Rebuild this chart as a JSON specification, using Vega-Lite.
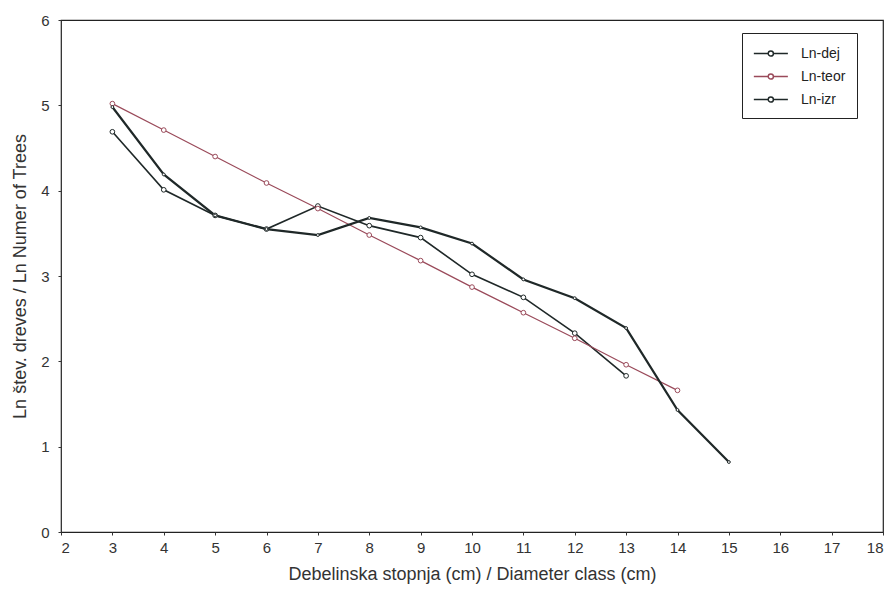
{
  "$schema": "https://vega.github.io/schema/vega-lite/v6.json",
  "width": 822,
  "height": 512,
  "autosize": {"type": "none"},
  "padding": {"left": 61, "top": 20, "right": 12, "bottom": 60},
  "background": "white",
  "config": {
    "font": "Liberation Sans",
    "view": {"stroke": "#222222", "strokeWidth": 1.2},
    "axis": {
      "grid": false,
      "domain": false,
      "tickColor": "#333333",
      "tickSize": 3,
      "labelColor": "#333333",
      "labelFontSize": 15,
      "titleColor": "#333333",
      "titleFontSize": 18,
      "titleFontWeight": "normal"
    }
  },
  "data": {
    "values": [
      {"d": 3, "series": "Ln-dej", "v": 4.69},
      {"d": 4, "series": "Ln-dej", "v": 4.01},
      {"d": 5, "series": "Ln-dej", "v": 3.71},
      {"d": 6, "series": "Ln-dej", "v": 3.55},
      {"d": 7, "series": "Ln-dej", "v": 3.82},
      {"d": 8, "series": "Ln-dej", "v": 3.59},
      {"d": 9, "series": "Ln-dej", "v": 3.45},
      {"d": 10, "series": "Ln-dej", "v": 3.02},
      {"d": 11, "series": "Ln-dej", "v": 2.75},
      {"d": 12, "series": "Ln-dej", "v": 2.33},
      {"d": 13, "series": "Ln-dej", "v": 1.83},
      {"d": 3, "series": "Ln-teor", "v": 5.02},
      {"d": 4, "series": "Ln-teor", "v": 4.71},
      {"d": 5, "series": "Ln-teor", "v": 4.40},
      {"d": 6, "series": "Ln-teor", "v": 4.09},
      {"d": 7, "series": "Ln-teor", "v": 3.79},
      {"d": 8, "series": "Ln-teor", "v": 3.48},
      {"d": 9, "series": "Ln-teor", "v": 3.18},
      {"d": 10, "series": "Ln-teor", "v": 2.87},
      {"d": 11, "series": "Ln-teor", "v": 2.57},
      {"d": 12, "series": "Ln-teor", "v": 2.27},
      {"d": 13, "series": "Ln-teor", "v": 1.96},
      {"d": 14, "series": "Ln-teor", "v": 1.66},
      {"d": 3, "series": "Ln-izr", "v": 4.98},
      {"d": 4, "series": "Ln-izr", "v": 4.19},
      {"d": 5, "series": "Ln-izr", "v": 3.71},
      {"d": 6, "series": "Ln-izr", "v": 3.55},
      {"d": 7, "series": "Ln-izr", "v": 3.48},
      {"d": 8, "series": "Ln-izr", "v": 3.68},
      {"d": 9, "series": "Ln-izr", "v": 3.57},
      {"d": 10, "series": "Ln-izr", "v": 3.38},
      {"d": 11, "series": "Ln-izr", "v": 2.96},
      {"d": 12, "series": "Ln-izr", "v": 2.74},
      {"d": 13, "series": "Ln-izr", "v": 2.39},
      {"d": 14, "series": "Ln-izr", "v": 1.43},
      {"d": 15, "series": "Ln-izr", "v": 0.82}
    ]
  },
  "encoding": {
    "x": {
      "field": "d",
      "type": "quantitative",
      "scale": {"domain": [2, 18], "nice": false},
      "axis": {
        "title": "Debelinska stopnja (cm) / Diameter class (cm)",
        "values": [2, 3, 4, 5, 6, 7, 8, 9, 10, 11, 12, 13, 14, 15, 16, 17, 18],
        "labelPadding": 5,
        "titlePadding": 10
      }
    },
    "y": {
      "field": "v",
      "type": "quantitative",
      "scale": {"domain": [0, 6], "nice": false},
      "axis": {
        "title": "Ln štev. dreves / Ln Numer of Trees",
        "values": [0, 1, 2, 3, 4, 5, 6],
        "labelPadding": 9,
        "titlePadding": 11
      }
    },
    "color": {
      "field": "series",
      "type": "nominal",
      "scale": {
        "domain": ["Ln-dej", "Ln-teor", "Ln-izr"],
        "range": ["#1f2828", "#9a4a5a", "#1f2828"]
      },
      "legend": {
        "title": null,
        "orient": "none",
        "legendX": 681,
        "legendY": 13,
        "strokeColor": "#222222",
        "fillColor": "white",
        "padding": 11,
        "rowPadding": 6,
        "labelFontSize": 14,
        "labelColor": "#222222",
        "labelOffset": 29,
        "symbolType": "M-1,0H0.66M1.26,0H2.93M1.26,0A0.3,0.3,0,1,1,0.66,0A0.3,0.3,0,1,1,1.26,0",
        "symbolSize": 300,
        "symbolStrokeWidth": 1.5,
        "symbolFillColor": "white"
      }
    }
  },
  "layer": [
    {
      "mark": {"type": "line"},
      "encoding": {
        "strokeWidth": {
          "condition": [
            {"test": "datum.series === 'Ln-izr'", "value": 2.2},
            {"test": "datum.series === 'Ln-teor'", "value": 1.2}
          ],
          "value": 1.6
        }
      }
    },
    {
      "mark": {"type": "point", "filled": false, "fill": "white", "fillOpacity": 1, "strokeWidth": 1, "opacity": 1},
      "encoding": {
        "size": {
          "condition": {"test": "datum.series === 'Ln-izr'", "value": 8},
          "value": 22
        }
      }
    }
  ]
}
